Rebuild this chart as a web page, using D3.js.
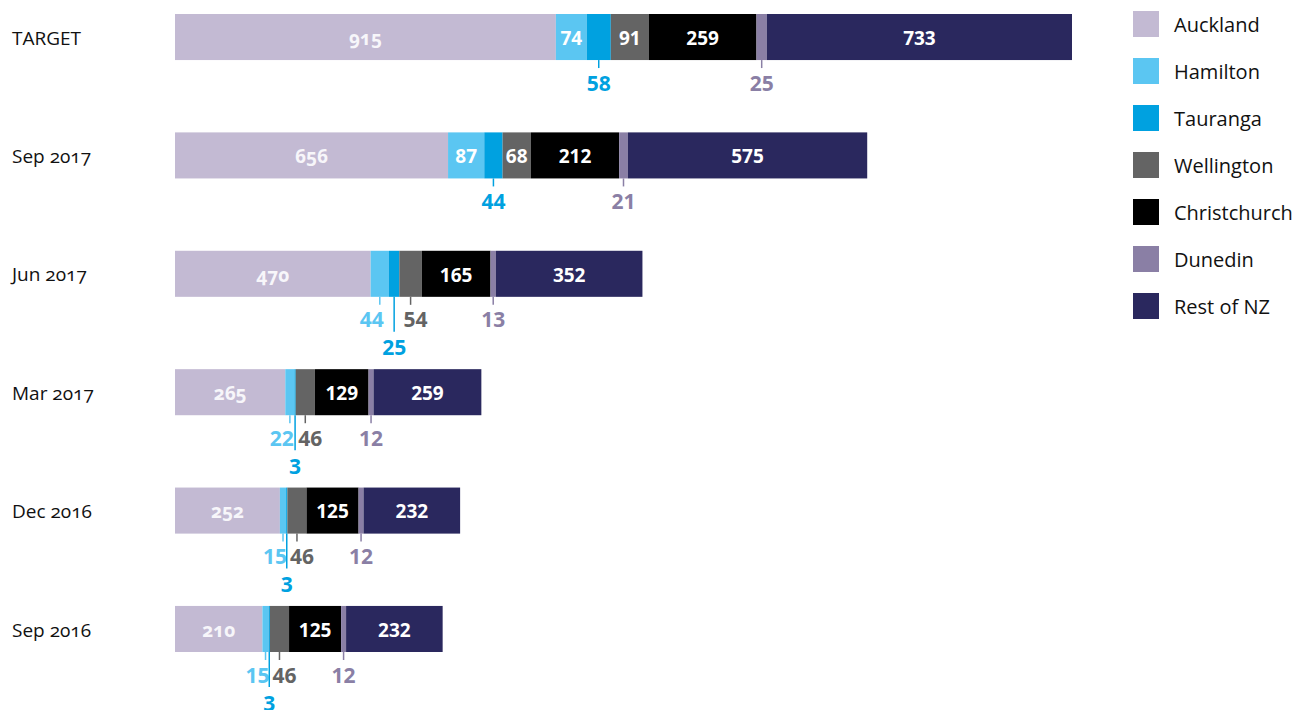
<!DOCTYPE html>
<html>
<head>
<meta charset="utf-8">
<script src="https://cdn.jsdelivr.net/npm/d3@7"></script>
<style>
    body { margin: 0; background: #fff; }
    svg text { font-family: "Open Sans", Lato, sans-serif; }
    .row-label { font-size: 19px; fill: #111; font-variant-numeric: oldstyle-nums; }
    .legend-label { font-size: 20px; fill: #111; }
    .in-label { font-size: 19px; font-weight: 700; fill: #fff; }
    .in-label.oldstyle { font-variant-numeric: oldstyle-nums; fill: #f7f6fa; }
    .out-label { font-size: 21px; font-weight: 700; }
</style>
</head>
<body>
<div id="chart"></div>
<script>

// data
const periods = ["TARGET", "Sep 2017", "Jun 2017", "Mar 2017", "Dec 2016", "Sep 2016"];
const regions = ["Auckland", "Hamilton", "Tauranga", "Wellington", "Christchurch", "Dunedin", "Rest of NZ"];
const regionColors = ["#c3bad3", "#5bc6f2", "#00a1e0", "#646464", "#000000", "#8a7fa5", "#2a285e"];
const auckland     = [915, 656, 470, 265, 252, 210];
const hamilton     = [74, 87, 44, 22, 15, 15];
const tauranga     = [58, 44, 25, 3, 3, 3];
const wellington   = [91, 68, 54, 46, 46, 46];
const christchurch = [259, 212, 165, 129, 125, 125];
const dunedin      = [25, 21, 13, 12, 12, 12];
const restOfNZ     = [733, 575, 352, 259, 232, 232];

const seriesValues = [auckland, hamilton, tauranga, wellington, christchurch, dunedin, restOfNZ];

// rows for the stack
let rows = periods.map((p, i) => {
    let row = {period: p};
    regions.forEach((r, j) => row[r] = seriesValues[j][i]);
    return row;
});

let width = 1296, height = 710;

let svg = d3.select("#chart").append("svg")
    .attr("width", width)
    .attr("height", height);

let stack = d3.stack().keys(regions);
let stacked = stack(rows);

let maxTotal = d3.max(stacked[stacked.length - 1], d => d[1]);

let x = d3.scaleLinear()
    .domain([0, maxTotal])
    .range([175, 1072]);

let y = d3.scaleBand()
    .domain(periods)
    .range([14, 652])
    .paddingInner(0.611);

let color = d3.scaleOrdinal()
    .domain(regions)
    .range(regionColors);

// row labels
svg.selectAll(".row-label")
    .data(periods)
    .enter().append("text")
    .attr("class", "row-label")
    .attr("x", 12)
    .attr("y", d => y(d) + y.bandwidth() / 2 + 1)
    .attr("dy", "0.35em")
    .text(d => d);

// bars
let layers = svg.selectAll(".layer")
    .data(stacked)
    .enter().append("g")
    .attr("class", "layer")
    .attr("fill", d => color(d.key));

layers.selectAll("rect")
    .data(d => d)
    .enter().append("rect")
    .attr("x", d => x(d[0]))
    .attr("y", d => y(d.data.period))
    .attr("width", d => x(d[1]) - x(d[0]))
    .attr("height", y.bandwidth());

// labels: inside when segment is wide, otherwise below with a leader line
const minInside = 26;

periods.forEach((p, i) => {
    let segs = stacked.map(layer => {
        let d = layer[i];
        return {
            key: layer.key,
            value: d[1] - d[0],
            x0: x(d[0]),
            x1: x(d[1]),
            cx: (x(d[0]) + x(d[1])) / 2
        };
    });
    segs.forEach(s => s.outside = (s.x1 - s.x0) < minInside);

    let top = y(p);
    let bottom = top + y.bandwidth();
    let g = svg.append("g");

    segs.forEach((s, j) => {
        if (!s.outside) {
            g.append("text")
                .attr("class", s.key === "Auckland" ? "in-label oldstyle" : "in-label")
                .attr("x", s.cx)
                .attr("y", top + y.bandwidth() / 2 + 1)
                .attr("dy", "0.36em")
                .attr("text-anchor", "middle")
                .text(s.value);
            return;
        }
        let prevOut = segs[j - 1] && segs[j - 1].outside;
        let nextOut = segs[j + 1] && segs[j + 1].outside;
        // squeezed between two small neighbours -> drop to a second line
        let level = (prevOut && nextOut) ? 2 : 1;

        let anchor = "middle", tx = s.cx;
        if (level === 1) {
            if (nextOut) {
                anchor = "end"; tx = s.cx + 4;
            } else if (prevOut) {
                anchor = "start"; tx = s.cx - 7;
            }
        }

        let c = color(s.key);
        let lineEnd = level === 1 ? bottom + 8 : bottom + 35;
        let textY = level === 1 ? bottom + 23 : bottom + 51;

        g.append("line")
            .attr("x1", s.cx).attr("x2", s.cx)
            .attr("y1", bottom).attr("y2", lineEnd)
            .attr("stroke", c)
            .attr("stroke-width", 1.5);

        g.append("text")
            .attr("class", "out-label")
            .attr("x", tx)
            .attr("y", textY)
            .attr("dy", "0.36em")
            .attr("text-anchor", anchor)
            .attr("fill", c)
            .text(s.value);
    });
});

// legend
let legend = svg.selectAll(".legend")
    .data(regions)
    .enter().append("g")
    .attr("class", "legend")
    .attr("transform", (d, i) => `translate(1133, ${11 + i * 47})`);

legend.append("rect")
    .attr("width", 26)
    .attr("height", 26)
    .attr("fill", d => color(d));

legend.append("text")
    .attr("class", "legend-label")
    .attr("x", 41)
    .attr("y", 14)
    .attr("dy", "0.35em")
    .text(d => d);

</script>
</body>
</html>
